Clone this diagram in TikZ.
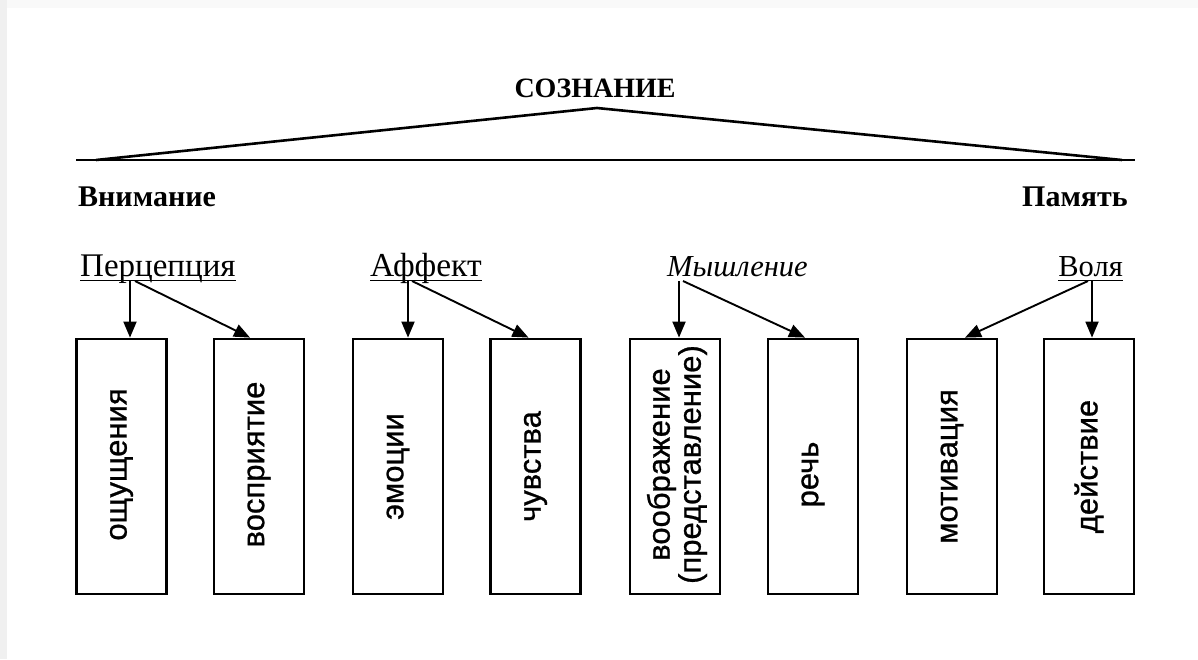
\documentclass[tikz,border=0pt]{standalone}
\usepackage{fontspec}
\setmainfont{Liberation Serif}
\newfontfamily\boxfont[FakeBold=0.8]{Liberation Sans}
\usetikzlibrary{arrows.meta}
\tikzset{
  x=1pt, y=-1pt,
  ttl/.style={font=\fontsize{28}{30}\selectfont\bfseries, inner sep=0pt},
  side/.style={font=\fontsize{30}{32}\selectfont\bfseries, inner sep=0pt},
  cat/.style={font=\fontsize{#1}{34}\selectfont, inner sep=0pt},
  catit/.style={font=\fontsize{30.5}{32}\selectfont\itshape, inner sep=0pt},
  ubox/.style={draw, line width=2.8pt, minimum width=90pt, minimum height=255pt, inner sep=0pt},
  vtext/.style={rotate=90, font=\boxfont\fontsize{31}{31}\selectfont, inner sep=0pt, align=center},
  arr/.style={line width=1.9pt, -{Triangle[length=16pt,width=13pt]}},
  uline/.style={line width=1.8pt},
}
\begin{document}
\begin{tikzpicture}
\useasboundingbox (0,0) rectangle (1198,659);
\fill[white] (0,0) rectangle (1198,659);
\fill[gray!12] (0,0) rectangle (7,659);
\fill[gray!5] (7,0) rectangle (1198,8);
% top
\node[ttl] (soz) at (595,88) {СОЗНАНИЕ};
\coordinate (bl) at (76,160);
\coordinate (br) at (1135,160);
\coordinate (tl) at (96,160);
\coordinate (tr) at (1122,160);
\coordinate (apex) at (597,108);
\draw[line width=2.8pt] (bl) -- (br);
\draw[line width=2.6pt, line join=round] (tl) -- (apex) -- (tr);
\node[side, anchor=west] (vn) at (78,197) {Внимание};
\node[side, anchor=east] (pam) at (1128,197) {Память};
% categories
\node[cat=33, anchor=base west] (per) at (80,276) {Перцепция};
\node[cat=33.5, anchor=base west] (aff) at (370,276) {Аффект};
\node[catit, anchor=base west] (mys) at (667,276) {Мышление};
\node[cat=30.5, anchor=base east] (vol) at (1123,276) {Воля};
\draw[uline] (per.base west) ++(0,4.5) -- ([yshift=-4.5pt]per.base east);
\draw[uline] (aff.base west) ++(0,4.5) -- ([yshift=-4.5pt]aff.base east);
\draw[uline] (vol.base west) ++(0,4.5) -- ([yshift=-4.5pt]vol.base east);
% boxes
\node[ubox] (b1) at (121.5,466.5) {};
\node[ubox] (b2) at (259,466.5) {};
\node[ubox] (b3) at (398,466.5) {};
\node[ubox] (b4) at (535.5,466.5) {};
\node[ubox] (b5) at (675,466.5) {};
\node[ubox] (b6) at (813,466.5) {};
\node[ubox] (b7) at (952,466.5) {};
\node[ubox] (b8) at (1089,466.5) {};
\node[vtext] (t1) at ([yshift=2pt]b1.center) {ощущения};
\node[vtext] (t2) at ([yshift=2pt]b2.center) {восприятие};
\node[vtext] (t3) at (b3.center) {эмоции};
\node[vtext] (t4) at (b4.center) {чувства};
\node[vtext] (t5) at ([xshift=2pt,yshift=2pt]b5.center) {воображение\\(представление)};
\node[vtext] (t6) at ([yshift=-8pt]b6.center) {речь};
\node[vtext] (t7) at (b7.center) {мотивация};
\node[vtext] (t8) at (b8.center) {действие};
% arrow starts
\coordinate (p0a) at (130,281);
\coordinate (p0b) at (135,281);
\coordinate (a0a) at (408,281);
\coordinate (a0b) at (412,281);
\coordinate (m0a) at (679,281);
\coordinate (m0b) at (683,281);
\coordinate (v0a) at (1092,281);
\coordinate (v0b) at (1088,281);
% arrows
\draw[arr] (p0a) -- (p0a |- b1.north);
\draw[arr] (p0b) -- ([xshift=-9pt]b2.north);
\draw[arr] (a0a) -- (a0a |- b3.north);
\draw[arr] (a0b) -- ([xshift=-7pt]b4.north);
\draw[arr] (m0a) -- (m0a |- b5.north);
\draw[arr] (m0b) -- ([xshift=-8pt]b6.north);
\draw[arr] (v0a) -- (v0a |- b8.north);
\draw[arr] (v0b) -- ([xshift=13pt]b7.north);
\end{tikzpicture}
\end{document}
